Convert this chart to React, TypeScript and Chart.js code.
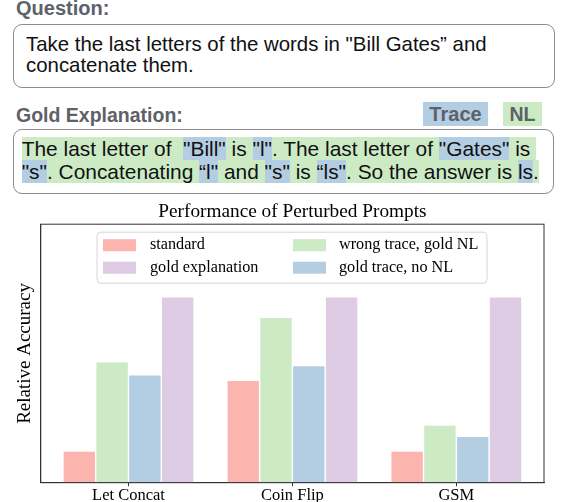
import React, { useEffect, useRef } from 'react';
import { Chart, registerables } from 'chart.js';

Chart.register(...registerables);

// ---------- data ----------
const categories = ['Let Concat', 'Coin Flip', 'GSM'];
const seriesNames = ['standard', 'wrong trace, gold NL', 'gold trace, no NL', 'gold explanation'];
const standard = [17, 55, 17];
const wrongTraceGoldNL = [65, 89, 31];
const goldTraceNoNL = [58, 63, 25];
const goldExplanation = [100, 100, 100];
const seriesColors = ['#fbb4ae', '#ccebc5', '#b3cde3', '#decbe4'];
const legendOrder = [0, 1, 3, 2];
const yMax = 139;
const chartTitle = 'Performance of Perturbed Prompts';
const yAxisTitle = 'Relative Accuracy';

const questionLines = ['Take the last letters of the words in "Bill Gates\u201d and', 'concatenate them.'];
const explanationLine1: [string, string][] = [
  ['The last letter of  ', 'nl'], ['"Bill"', 'trace'], [' is ', 'nl'], ['"l"', 'trace'],
  ['. The last letter of ', 'nl'], ['"Gates"', 'trace'], [' is ', 'nl'],
];
const explanationLine2: [string, string][] = [
  ['"s"', 'trace'], ['. Concatenating ', 'nl'], ['\u201cl"', 'trace'], [' and ', 'nl'],
  ['"s"', 'trace'], [' is ', 'nl'], ['\u201cls"', 'trace'], ['. So the answer is ', 'nl'],
  ['ls', 'trace'], ['.', 'nl'],
];
const traceColor = '#b3cde3';
const nlColor = '#ccebc5';

const SERIF = "'Liberation Serif', 'Times New Roman', Times, serif";
const SANS = "'Liberation Sans', Arial, Helvetica, sans-serif";

const frameAndLegend = {
  id: 'frameAndLegend',
  afterDraw(chart: any) {
    const { ctx, chartArea } = chart;
    ctx.save();
    // frame
    ctx.strokeStyle = '#333';
    ctx.lineWidth = 1;
    ctx.strokeRect(chartArea.left, chartArea.top, chartArea.right - chartArea.left, chartArea.bottom - chartArea.top);
    // title centred over the axes
    ctx.font = `19.3px ${SERIF}`;
    ctx.fillStyle = '#000';
    ctx.textAlign = 'center';
    ctx.textBaseline = 'middle';
    ctx.fillText(chartTitle, (chartArea.left + chartArea.right) / 2, chartArea.top - 12.5);
    // legend box
    const x0 = chartArea.left + 56.2;
    const y0 = chartArea.top + 8;
    const w = 390;
    const h = 51;
    const r = 4;
    ctx.beginPath();
    ctx.moveTo(x0 + r, y0);
    ctx.lineTo(x0 + w - r, y0);
    ctx.arcTo(x0 + w, y0, x0 + w, y0 + r, r);
    ctx.lineTo(x0 + w, y0 + h - r);
    ctx.arcTo(x0 + w, y0 + h, x0 + w - r, y0 + h, r);
    ctx.lineTo(x0 + r, y0 + h);
    ctx.arcTo(x0, y0 + h, x0, y0 + h - r, r);
    ctx.lineTo(x0, y0 + r);
    ctx.arcTo(x0, y0, x0 + r, y0, r);
    ctx.closePath();
    ctx.fillStyle = 'rgba(255,255,255,0.8)';
    ctx.fill();
    ctx.strokeStyle = '#d6d6d6';
    ctx.stroke();
    const colSwatch = [6, 196];
    const colText = [53, 242];
    const rowY = [13, 35.5];
    ctx.font = `16.2px ${SERIF}`;
    ctx.textBaseline = 'middle';
    ctx.textAlign = 'left';
    legendOrder.forEach((dsIndex, k) => {
      const row = Math.floor(k / 2);
      const col = k % 2;
      const ds = chart.data.datasets[dsIndex];
      ctx.fillStyle = ds.backgroundColor;
      ctx.fillRect(x0 + colSwatch[col], y0 + rowY[row] - 6, 33, 12);
      ctx.fillStyle = '#000';
      ctx.fillText(ds.label, x0 + colText[col], y0 + rowY[row]);
    });
    ctx.restore();
  },
};

export default function App() {
  const canvasRef = useRef<HTMLCanvasElement>(null);

  useEffect(() => {
    const canvas = canvasRef.current;
    if (!canvas) return;
    const seriesValues = [standard, wrongTraceGoldNL, goldTraceNoNL, goldExplanation];
    const chart = new Chart(canvas, {
      type: 'bar',
      data: {
        datasets: seriesNames.map((name, j) => ({
          label: name,
          data: categories.map((_, i) => ({ x: i, y: seriesValues[j][i] })),
          backgroundColor: seriesColors[j],
          borderColor: '#ffffff',
          borderWidth: 0.7,
          categoryPercentage: 0.8,
          barPercentage: 1,
        })),
      },
      options: {
        animation: false,
        responsive: false,
        devicePixelRatio: 1,
        layout: { padding: { left: 10, right: 24, top: 24.2, bottom: 0 } },
        plugins: {
          legend: { display: false },
          tooltip: { enabled: false },
          title: { display: false },
        },
        scales: {
          x: {
            type: 'linear',
            min: -0.535,
            max: 2.535,
            offset: false,
            afterBuildTicks: (scale: any) => {
              scale.ticks = categories.map((_, i) => ({ value: i }));
            },
            ticks: {
              color: '#000',
              padding: 0,
              font: { family: SERIF, size: 16.5 },
              callback: (v: any) => categories[Number(v)] ?? '',
              maxRotation: 0,
              autoSkip: false,
            },
            grid: {
              display: true,
              offset: false,
              drawOnChartArea: false,
              drawTicks: true,
              tickLength: 3.5,
              color: '#333',
            },
            border: { display: true, color: '#333', width: 1 },
          },
          y: {
            min: 0,
            max: yMax,
            ticks: { display: false },
            grid: { display: false, drawTicks: false },
            border: { display: true, color: '#333', width: 1 },
            title: {
              display: true,
              text: yAxisTitle,
              color: '#000',
              font: { family: SERIF, size: 19 },
              padding: { top: 4, bottom: 4 },
            },
          },
        },
      },
      plugins: [frameAndLegend],
    } as any);
    return () => chart.destroy();
  }, []);

  const labelStyle: React.CSSProperties = {
    position: 'absolute',
    fontFamily: SANS,
    fontWeight: 'bold',
    color: '#5d6168',
    whiteSpace: 'nowrap',
  };
  const boxStyle: React.CSSProperties = {
    position: 'absolute',
    boxSizing: 'border-box',
    border: '1.5px solid #8c8c8c',
    borderRadius: 9,
    background: '#fff',
  };

  return (
    <div style={{ position: 'absolute', left: 0, top: 0, width: 568, height: 502, overflow: 'hidden', background: '#fff' }}>
      <div style={{ ...labelStyle, left: 16, top: -2, fontSize: 20, lineHeight: '20px' }}>Question:</div>
      <div style={{ ...boxStyle, left: 13, top: 24, width: 542, height: 64 }} />
      <div
        style={{
          position: 'absolute', left: 26, top: 33.5, fontFamily: SANS, fontSize: 20.4,
          lineHeight: '21.5px', color: '#111', whiteSpace: 'nowrap',
        }}
      >
        {questionLines[0]}
        <br />
        {questionLines[1]}
      </div>

      <div style={{ ...labelStyle, left: 16, top: 105, fontSize: 19.5, lineHeight: '20px' }}>Gold Explanation:</div>
      <div style={{ position: 'absolute', left: 423, top: 102, width: 65, height: 23.5, background: traceColor }}>
        <div style={{ ...labelStyle, left: 0, width: 65, top: 1, textAlign: 'center', fontSize: 20, lineHeight: '23.5px' }}>Trace</div>
      </div>
      <div style={{ position: 'absolute', left: 503, top: 102, width: 39, height: 23.5, background: nlColor }}>
        <div style={{ ...labelStyle, left: 0, width: 39, top: 1, textAlign: 'center', fontSize: 19.5, lineHeight: '23.5px' }}>NL</div>
      </div>
      <div style={{ ...boxStyle, left: 13, top: 129, width: 541, height: 65 }} />
      <div
        style={{
          position: 'absolute', left: 21.7, top: 136.7, fontFamily: SANS, fontSize: 20.9,
          lineHeight: '23.3px', color: '#111', whiteSpace: 'pre',
        }}
      >
        {explanationLine1.map(([t, k], i) => (
          <span key={'a' + i} style={{ background: k === 'trace' ? traceColor : nlColor }}>{t}</span>
        ))}
        <br />
        {explanationLine2.map(([t, k], i) => (
          <span key={'b' + i} style={{ background: k === 'trace' ? traceColor : nlColor }}>{t}</span>
        ))}
      </div>

      <canvas
        ref={canvasRef}
        width={568}
        height={306}
        style={{ position: 'absolute', left: 0, top: 200, width: 568, height: 306 }}
      />
    </div>
  );
}
